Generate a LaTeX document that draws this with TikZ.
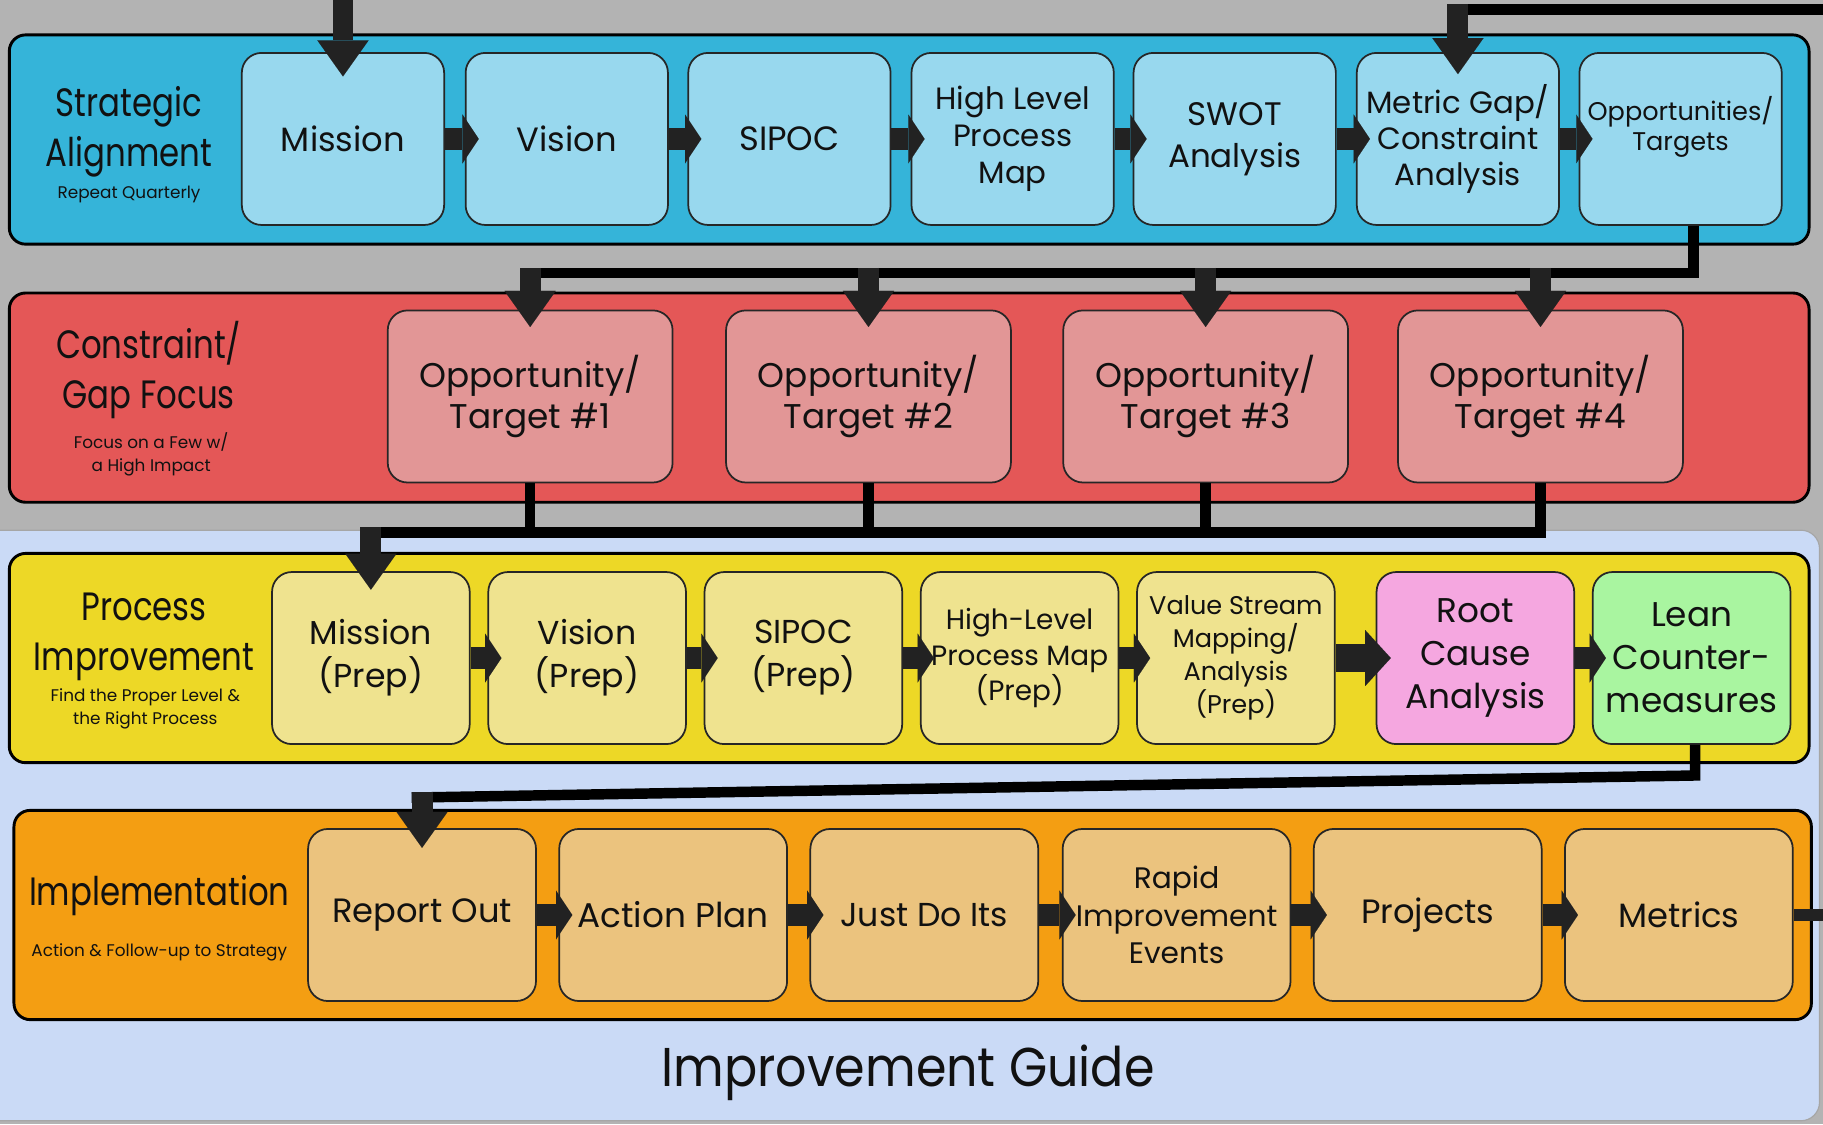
\documentclass[tikz,border=0pt]{standalone}
\usepackage{fontspec}
\setmainfont{Poppins}
\newfontfamily\labfont{Poppins}[FakeStretch=0.82]
\newfontfamily\titfont{Poppins}[FakeStretch=0.9]
\usetikzlibrary{arrows.meta,calc}
\definecolor{bggray}{HTML}{B3B3B3}
\definecolor{bgblue}{HTML}{CADAF6}
\definecolor{cyanband}{HTML}{35B4D9}
\definecolor{cyanbox}{HTML}{98D8EE}
\definecolor{redband}{HTML}{E45757}
\definecolor{redbox}{HTML}{E29696}
\definecolor{yelband}{HTML}{EDD826}
\definecolor{yelbox}{HTML}{EFE38F}
\definecolor{pinkbox}{HTML}{F5A7E0}
\definecolor{greenbox}{HTML}{A9F5A0}
\definecolor{orgband}{HTML}{F49E12}
\definecolor{orgbox}{HTML}{EBC37E}
\definecolor{arrc}{HTML}{222222}
\definecolor{txt}{HTML}{111111}
\newcommand\fsz[2]{\fontsize{#1}{#2}\selectfont}
\begin{document}
\begin{tikzpicture}[x=1pt,y=-1pt,
 band/.style={draw=black, line width=2.5pt, rounded corners=14pt, minimum width=1548pt, minimum height=180pt, inner sep=0pt},
 box/.style={draw=black!85, line width=1.5pt, rounded corners=17pt, minimum height=148pt, inner sep=0pt, align=center, text=txt},
 b1/.style={box, fill=cyanbox, minimum width=174pt},
 b2/.style={box, fill=redbox, minimum width=245pt},
 b3/.style={box, fill=yelbox, minimum width=170pt},
 b4/.style={box, fill=orgbox, minimum width=196pt},
 harr/.style={draw=arrc, line width=19pt, -{Triangle[length=14pt,width=42pt,line width=0.01pt]}},
 harrbig/.style={draw=arrc, line width=24pt, -{Triangle[length=22pt,width=48pt,line width=0.01pt]}},
 varr/.style={draw=arrc, line width=18pt, -{Triangle[length=31pt,width=44pt,line width=0.01pt]}},
 bus/.style={draw=black, line width=9pt, line join=miter},
 lab/.style={align=center, text=txt, inner sep=0pt, font={\labfont\fsz{34}{43}}},
 sublab/.style={align=center, text=txt, inner sep=0pt, font={\fsz{14.5}{20}}},
]
\useasboundingbox (0,0) rectangle (1568,967);
\fill[bggray] (0,0) rectangle (1568,967);
\path[fill=bgblue, draw=black!35, line width=1pt, rounded corners=16pt] (-20,456) -- (1565,456) -- (1565,964) -- (-20,964) -- cycle;

% bands
\node[band, fill=cyanband] (band1) at (782,120) {};
\node[band, fill=redband] (band2) at (782,342) {};
\node[band, fill=yelband] (band3) at (782,566) {};
\node[band, fill=orgband, minimum width=1546pt] (band4) at (785,787) {};

% band labels
\node[lab] (l1) at (111,113) {Strategic\\Alignment};
\node[sublab] (l1s) at (111,167) {Repeat Quarterly};
\node[lab] (l2) at (128,318) {Constraint/\\Gap Focus};
\node[sublab] (l2s) at (130,391) {Focus on a Few w/\\a High Impact};
\node[lab] (l3) at (124,548) {Process\\Improvement};
\node[sublab] (l3s) at (125,610) {Find the Proper Level \&\\the Right Process};
\node[lab] (l4) at (137,770) {Implementation};
\node[sublab] (l4s) at (137,819) {Action \& Follow-up to Strategy};

% row 1
\node[b1, font={\fsz{29}{34}}] (m1) at (295,119.5) {Mission};
\node[b1, font={\fsz{29}{34}}] (m2) at (487.5,119.5) {Vision};
\node[b1, font={\fsz{29}{34}}] (m3) at (679,119.5) {SIPOC};
\node[b1, font={\fsz{26.5}{32}}] (m4) at (871,119.5) {High Level\\Process\\Map};
\node[b1, font={\fsz{28}{36}}] (m5) at (1062,119.5) {SWOT\\Analysis};
\node[b1, font={\fsz{26.5}{31}}] (m6) at (1254,119.5) {Metric Gap/\\Constraint\\Analysis};
\node[b1, font={\fsz{22}{26}}] (m7) at (1445.5,119.5) {Opportunities/\\Targets\\\mbox{}};

% row 2
\node[b2, font={\fsz{29.5}{36}}] (p1) at (456,341) {Opportunity/\\Target \#1};
\node[b2, font={\fsz{29.5}{36}}] (p2) at (747,341) {Opportunity/\\Target \#2};
\node[b2, font={\fsz{29.5}{36}}] (p3) at (1037,341) {Opportunity/\\Target \#3};
\node[b2, font={\fsz{29.5}{36}}] (p4) at (1325,341) {Opportunity/\\Target \#4};

% row 3
\node[b3, font={\fsz{28.5}{37}}] (q1) at (319,566) {Mission\\(Prep)};
\node[b3, font={\fsz{28.5}{37}}] (q2) at (505,566) {Vision\\(Prep)};
\node[b3, font={\fsz{28.5}{37}}] (q3) at (691,566) {SIPOC\\(Prep)};
\node[b3, font={\fsz{24}{30.5}}] (q4) at (877,566) {High-Level\\Process Map\\(Prep)};
\node[b3, font={\fsz{22}{28.5}}] (q5) at (1063,566) {Value Stream\\Mapping/\\Analysis\\(Prep)};
\node[b3, fill=pinkbox, font={\fsz{29.5}{37}}] (q6) at (1269,566) {Root\\Cause\\Analysis};
\node[b3, fill=greenbox, font={\fsz{29.5}{37}}] (q7) at (1455,566) {Lean\\Counter-\\measures};

% row 4
\node[b4, font={\fsz{29}{34}}] (r1) at (363,787) {Report Out};
\node[b4, font={\fsz{29.5}{34}}] (r2) at (579,787) {Action Plan};
\node[b4, font={\fsz{28.5}{34}}] (r3) at (795,787) {Just Do Its};
\node[b4, font={\fsz{25.5}{32.5}}] (r4) at (1012,787) {Rapid\\Improvement\\Events};
\node[b4, font={\fsz{29}{34}}] (r5) at (1228,787) {Projects};
\node[b4, font={\fsz{29}{34}}] (r6) at (1444,787) {Metrics};

% title
\node[align=center, text=txt, inner sep=0pt, font={\titfont\fsz{47}{52}}] (title) at (781,923) {Improvement Guide};

% horizontal arrows
\foreach \a/\b in {m1/m2,m2/m3,m3/m4,m4/m5,m5/m6,m6/m7,q1/q2,q2/q3,q3/q4,q4/q5,q6/q7,r1/r2,r2/r3,r3/r4,r4/r5,r5/r6}
  \draw[harr] (\a.east) -- ([xshift=12pt]\b.west);
\draw[harrbig] (q5.east) -- ([xshift=13pt]q6.west);

% connectors
\coordinate (topin) at (295,-2);
\draw[varr] (m1.north |- topin) -- ([yshift=-21pt]m1.north);

\coordinate (topR) at (1575,8);
\draw[bus] (topR) -- ([xshift=-8.5pt]m6.north |- topR);
\draw[varr] ([yshift=4.5pt]m6.north |- topR) -- ([yshift=-19pt]m6.north);

\coordinate (bus1) at (0,235);
\draw[bus] ([xshift=11pt]m7.south) |- ([xshift=-9pt]p1.north |- bus1);
\foreach \p in {p1,p2,p3,p4}
  \draw[varr] ([yshift=4.5pt]\p.north |- bus1) -- ([yshift=-15pt]\p.north);

\coordinate (bus2) at (0,458);
\foreach \p in {p1,p2,p3,p4}
  \draw[bus] (\p.south) -- (\p.south |- bus2);
\draw[bus, line cap=rect] ([xshift=-5pt]q1.north |- bus2) -- (p4.south |- bus2);
\draw[varr] ([yshift=4.5pt]q1.north |- bus2) -- ([yshift=-16pt]q1.north);

\coordinate (b3a) at (1458,667);
\coordinate (b3b) at (354,686);
\draw[bus] ([xshift=3pt]q7.south) -- (b3a) -- (b3b);
\draw[varr] ([yshift=4.5pt]r1.north |- b3b) -- ([yshift=-17pt]r1.north);

\coordinate (outR) at (1575,786);
\draw[draw=arrc, line width=10pt] (r6.east) -- (r6.east -| outR);
\end{tikzpicture}
\end{document}
